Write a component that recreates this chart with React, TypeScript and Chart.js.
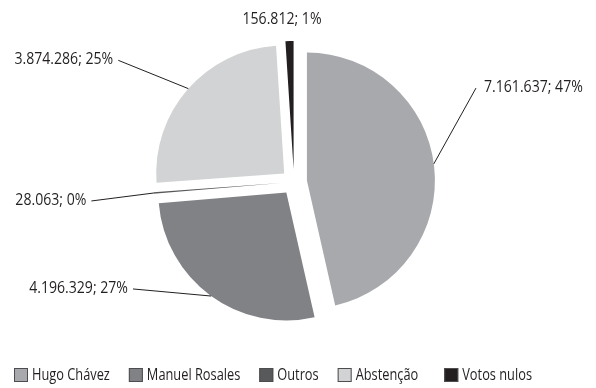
import React, { useEffect, useRef } from 'react';
import { Chart, registerables, ArcElement } from 'chart.js';

Chart.register(...registerables);

// ---- data ----
const categories = ['Hugo Chávez', 'Manuel Rosales', 'Outros', 'Abstenção', 'Votos nulos'];
const votes = [7161637, 4196329, 28063, 3874286, 156812];
const percentLabels = [47, 27, 0, 25, 1];

// ---- style ----
const colors = ['#a7a9ac', '#808285', '#58595b', '#d1d3d4', '#231f20'];
const TEXT = '#231f20';
const FAMILY = "'Open Sans', sans-serif";
const LABEL_SX = 0.88; // horizontal squeeze to mimic a condensed face
const LEGEND_SX = 0.8;
const EXPLODE = 13; // px each slice is pulled out
const RADIUS = 128;

// label placement: angles in degrees (canvas convention), distance as factor of radius
const labelLayout = [
  { line: -7.5, angle: -27.3, dist: 1.6, align: 'left' },
  { line: 126, angle: 146.4, dist: 1.51, align: 'right' },
  { line: 175.5, angle: 174.65, dist: 1.59, align: 'right' },
  { line: 221.5, angle: 214.7, dist: 1.67, align: 'right' },
  { line: null, angle: 265.75, dist: 1.265, align: 'center' },
];

const fmt = (n: number) => n.toString().replace(/\B(?=(\d{3})+(?!\d))/g, '.');
const rad = (d: number) => (d * Math.PI) / 180;

function squeezedText(
  ctx: CanvasRenderingContext2D,
  text: string,
  x: number,
  y: number,
  sx: number,
  align: CanvasTextAlign
) {
  ctx.save();
  ctx.translate(x, y);
  ctx.scale(sx, 1);
  ctx.textAlign = align;
  ctx.fillText(text, 0, 0);
  ctx.restore();
}

const explodePlugin = {
  id: 'explodeSlices',
  beforeDatasetsDraw(chart: any) {
    const meta = chart.getDatasetMeta(0);
    meta.data.forEach((arc: any) => {
      if (arc.__exploded) return;
      arc.__exploded = true;
      arc.draw = function (ctx: CanvasRenderingContext2D) {
        const mid = (this.startAngle + this.endAngle) / 2;
        ctx.save();
        ctx.translate(Math.cos(mid) * EXPLODE, Math.sin(mid) * EXPLODE);
        ArcElement.prototype.draw.call(this, ctx);
        ctx.restore();
      };
    });
  },
};

const labelPlugin = {
  id: 'leaderLabels',
  afterDatasetsDraw(chart: any) {
    const ctx: CanvasRenderingContext2D = chart.ctx;
    const meta = chart.getDatasetMeta(0);
    ctx.save();
    ctx.font = `16px ${FAMILY}`;
    ctx.fillStyle = TEXT;
    ctx.strokeStyle = TEXT;
    ctx.lineWidth = 1;
    ctx.textBaseline = 'middle';
    meta.data.forEach((arc: any, i: number) => {
      const { x, y, startAngle, endAngle, outerRadius } = arc.getProps(
        ['x', 'y', 'startAngle', 'endAngle', 'outerRadius'],
        true
      );
      const mid = (startAngle + endAngle) / 2;
      const ax = x + Math.cos(mid) * EXPLODE;
      const ay = y + Math.sin(mid) * EXPLODE;
      const L = labelLayout[i];
      const oa = rad(L.angle);
      const ox = x + Math.cos(oa) * L.dist * outerRadius;
      const oy = y + Math.sin(oa) * L.dist * outerRadius;
      if (L.line !== null) {
        const la = rad(L.line);
        ctx.beginPath();
        ctx.moveTo(ax + Math.cos(la) * outerRadius, ay + Math.sin(la) * outerRadius);
        ctx.lineTo(ox, oy);
        ctx.stroke();
      }
      const text = `${fmt(votes[i])}; ${percentLabels[i]}%`;
      const tx = L.align === 'left' ? ox + 8 : L.align === 'right' ? ox - 5 : ox;
      squeezedText(ctx, text, tx, oy - 1, LABEL_SX, L.align as CanvasTextAlign);
    });
    ctx.restore();
  },
};

const legendPlugin = {
  id: 'squareLegend',
  afterDraw(chart: any) {
    const ctx: CanvasRenderingContext2D = chart.ctx;
    const box = 14;
    const cy = chart.height - 13;
    let x = 14;
    ctx.save();
    ctx.font = `16px ${FAMILY}`;
    ctx.textBaseline = 'middle';
    categories.forEach((c, i) => {
      ctx.fillStyle = colors[i];
      ctx.fillRect(x, cy - box / 2, box, box);
      ctx.strokeStyle = '#4d4d4f';
      ctx.lineWidth = 1;
      ctx.strokeRect(x + 0.5, cy - box / 2 + 0.5, box - 1, box - 1);
      const tx = x + box + 4;
      ctx.fillStyle = TEXT;
      squeezedText(ctx, c, tx, cy, LEGEND_SX, 'left');
      const w = ctx.measureText(c).width * LEGEND_SX;
      x = tx + w + (i === 3 ? 26 : 19);
    });
    ctx.restore();
  },
};

export default function App() {
  const ref = useRef<HTMLCanvasElement>(null);
  useEffect(() => {
    if (!ref.current) return;
    const chart = new Chart(ref.current, {
      type: 'pie',
      data: {
        labels: categories,
        datasets: [
          {
            data: votes,
            backgroundColor: colors,
            borderWidth: 0,
            radius: RADIUS,
          } as any,
        ],
      },
      options: {
        animation: false,
        responsive: true,
        maintainAspectRatio: false,
        layout: { padding: { left: 0, right: 8, top: 0, bottom: 24 } },
        plugins: {
          tooltip: { enabled: false },
          legend: { display: false },
        },
      },
      plugins: [explodePlugin, labelPlugin, legendPlugin],
    });
    return () => chart.destroy();
  }, []);
  return (
    <div style={{ position: 'fixed', left: 0, top: 0, width: 596, height: 388, background: '#fff' }}>
      <canvas ref={ref} />
    </div>
  );
}
